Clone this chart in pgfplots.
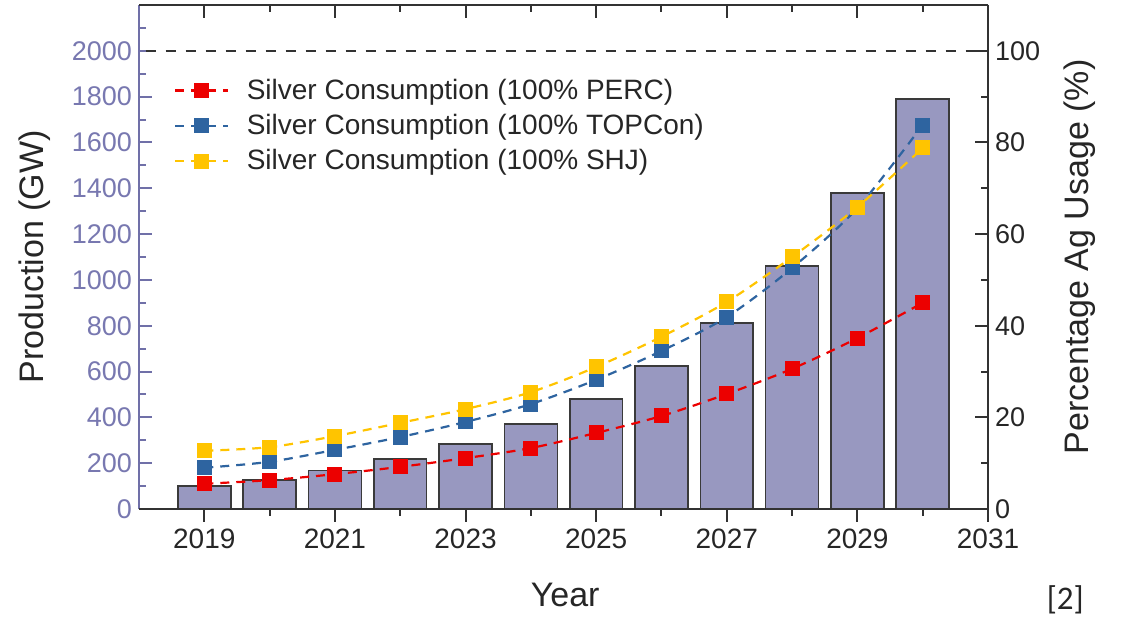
\documentclass[border=0pt]{standalone}
\usepackage{fontspec}
\setmainfont{Liberation Sans}
\newfontfamily\carlito{Carlito}
\usepackage{pgfplots}
\usepackage{pgfplotstable}
\pgfplotsset{compat=1.18}

\definecolor{barfill}{RGB}{152,152,192}
\definecolor{baredge}{RGB}{58,58,58}
\definecolor{leftc}{RGB}{112,112,168}
\definecolor{lefttxt}{RGB}{120,120,176}
\definecolor{percred}{RGB}{236,0,0}
\definecolor{topblue}{RGB}{46,100,160}
\definecolor{shjyel}{RGB}{255,196,0}
\definecolor{axgray}{RGB}{50,50,50}

% production (GW), left axis
\pgfplotstableread{
year prod
2019 100
2020 127
2021 168
2022 218
2023 284
2024 371
2025 480
2026 624
2027 812
2028 1061
2029 1380
2030 1790
}\prodtable

% silver usage (%), right axis
\pgfplotstableread{
year perc topcon shj
2019 5.5 9.0 12.7
2020 6.3 10.3 13.5
2021 7.6 12.9 15.9
2022 9.2 15.7 18.8
2023 11.1 19.0 21.8
2024 13.3 22.9 25.5
2025 16.6 28.2 31.0
2026 20.3 34.5 37.6
2027 25.1 41.9 45.2
2028 30.6 52.6 55.0
2029 37.3 65.7 65.9
2030 45.0 83.8 78.8
}\agtable

\pgfplotsset{
  common/.style={
    scale only axis, width=424.5pt, height=252pt,
    xmin=2018, xmax=2031,
    xtick={2019,2021,...,2031},
    minor xtick={2020,2022,...,2030},
    major tick length=6.5pt, minor tick length=3.5pt,
    /pgf/number format/assume math mode=true,
    /pgf/number format/set thousands separator={},
  },
  agline/.style={line width=1.1pt, dash pattern=on 4.5pt off 3.5pt, smooth,
    mark=square*, mark size=3.2pt, mark options={solid, fill=#1, draw=#1}, color=#1},
}

\begin{document}
\begin{tikzpicture}
% bars and left axis
\begin{axis}[common, name=ax,
  ymin=0, ymax=2200,
  axis y line*=left, axis x line=none,
  tick align=inside,
  ytick={0,200,...,2000}, minor ytick={100,300,...,2100},
  axis line style={draw=leftc, line width=1.2pt},
  tick style={leftc, line width=1pt},
  yticklabel style={text=lefttxt, font=\fontsize{13.5}{15}\selectfont},
  ylabel={Production (GW)},
  every axis y label/.style={at={(axis description cs:-0.1225,0.5)}, rotate=90,
    anchor=center, font=\fontsize{17}{19}\selectfont, text=black!85},
]
\addplot[ybar, bar width=0.81, fill=barfill, draw=baredge, line width=0.8pt]
  table[x=year, y=prod] {\prodtable};
\end{axis}

% bottom x axis
\begin{axis}[common, ymin=0, ymax=2200,
  axis x line*=bottom, axis y line=none,
  tick align=outside,
  axis line style={draw=axgray, line width=1.2pt},
  tick style={axgray, line width=1pt},
  xticklabel style={font=\fontsize{14}{16}\selectfont, text=black!85},
  xlabel={Year},
  every axis x label/.style={at={(axis description cs:0.502,-0.171)}, anchor=center,
    font=\fontsize{17}{19}\selectfont, text=black!85},
]
\end{axis}

% right axis, top x axis, silver lines
\begin{axis}[common, ymin=0, ymax=110,
  axis y line*=right, axis x line*=top,
  tick align=inside,
  xticklabels={},
  ytick={0,20,...,100}, minor ytick={10,30,...,90},
  axis line style={draw=axgray, line width=1.2pt},
  tick style={axgray, line width=1pt},
  yticklabel style={font=\fontsize{13.5}{15}\selectfont, text=black!85},
  ylabel={Percentage Ag Usage (\%)},
  every axis y label/.style={at={(axis description cs:1.108,0.5)}, rotate=90,
    anchor=center, font=\fontsize{17}{19}\selectfont, text=black!85},
  clip=false,
  legend cell align=left,
  legend style={draw=none, fill=none, at={(axis description cs:0.034,0.87)},
    anchor=north west, font=\fontsize{14}{16}\selectfont, text=black!85, row sep=2pt,
    /tikz/every odd column/.append style={column sep=7pt}},
  legend image code/.code={
    \draw[mark repeat=2, mark phase=2, #1] plot coordinates {(0cm,0cm) (0.46cm,0cm) (0.92cm,0cm)};
  },
]
\addplot[axgray, line width=1.2pt, dash pattern=on 5pt off 5pt, forget plot]
  coordinates {(2018.1,100) (2031,100)};
\addplot[agline=percred] table[x=year, y=perc] {\agtable};
\addlegendentry{Silver Consumption (100\% PERC)}
\addplot[agline=topblue] table[x=year, y=topcon] {\agtable};
\addlegendentry{Silver Consumption (100\% TOPCon)}
\addplot[agline=shjyel] table[x=year, y=shj] {\agtable};
\addlegendentry{Silver Consumption (100\% SHJ)}
\node[font=\carlito\fontsize{16.5}{18}\selectfont, text=black!85]
  at (axis description cs:1.091,-0.181) {[2]};
\end{axis}

\pgfresetboundingbox
\path[use as bounding box] ([shift={(-69.5pt,-57pt)}]ax.south west)
  rectangle ([shift={(67pt,2.5pt)}]ax.north east);
\end{tikzpicture}
\end{document}
